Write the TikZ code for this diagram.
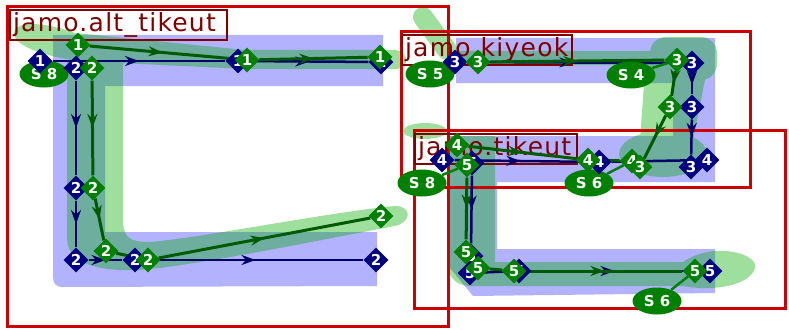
\documentclass[tikz,border=0pt]{standalone}
\usepackage{fontspec}
\setmainfont{DejaVu Sans}
\newfontfamily\labelfont[LetterSpace=5]{DejaVu Sans}
\usetikzlibrary{arrows.meta,shapes.geometric,decorations.markings}
\definecolor{boxred}{RGB}{204,0,0}
\definecolor{labelred}{RGB}{128,0,0}
\definecolor{nodeblue}{RGB}{0,0,128}
\definecolor{nodegreen}{RGB}{0,128,0}
\definecolor{lineblue}{RGB}{0,0,105}
\definecolor{linegreen}{RGB}{0,90,0}
\definecolor{bandblue}{RGB}{178,178,255}
\definecolor{bandgreen}{RGB}{0,170,0}
\pgfdeclarelayer{bands}
\pgfdeclarelayer{frames}
\pgfdeclarelayer{lines}
\pgfsetlayers{bands,frames,lines,main}

\begin{document}
\begin{tikzpicture}[x=1pt, y=-1pt, >=Stealth]
\tikzset{
  bpt/.style={diamond, fill=nodeblue, text=white, inner sep=0pt, minimum width=25pt, minimum height=25pt, font=\bfseries\fontsize{15}{15}\selectfont},
  gpt/.style={bpt, fill=nodegreen},
  seq/.style={ellipse, fill=nodegreen, text=white, inner sep=0pt, minimum width=49pt, minimum height=27pt, font=\bfseries\fontsize{15}{15}\selectfont},
  glyph/.style={draw=boxred, line width=3pt},
  tag/.style={draw=labelred, line width=2pt, text=labelred, anchor=north west, inner xsep=3pt, inner ysep=0pt, minimum height=30pt, align=left, font=\labelfont\fontsize{25}{25}\selectfont},
  midarr/.style={postaction={decorate}, decoration={markings, mark=at position 0.5 with {\arrow{Stealth[length=14pt,width=10pt]}}}},
  bflow/.style={draw=lineblue, line width=2.5pt},
  gflow/.style={draw=linegreen, line width=3pt},
  link/.style={draw=nodegreen, line width=2.5pt}
}
\useasboundingbox (0,0) rectangle (789,329);

% stroke bands
\begin{pgfonlayer}{bands}
\fill[bandblue] (53,35) -- (383,35) -- (383,86) -- (105,86) -- (105,232) -- (377,232) -- (377,286) -- (62,287) .. controls (56,287) and (53,283) .. (53,277) -- cycle;
\fill[bandblue] (456,38) -- (715,38) -- (715,136) -- (673,136) -- (673,83) -- (456,83) -- cycle;
\fill[bandblue] (447,136) -- (715,136) -- (715,182) -- (497,182) -- (497,249) -- (715,249) -- (715,293) -- (473,296) -- (450,268) -- cycle;
\begin{scope}[transparency group, opacity=0.38]
\fill[bandgreen] (14,34) .. controls (12,22) and (40,20) .. (75,33) -- (245,50) -- (395,50) .. controls (410,51) and (410,69) .. (395,69) -- (245,69) -- (78,61) .. controls (50,57) and (16,48) .. (14,34) -- cycle;
\fill[bandgreen] (67,62) -- (67,238) .. controls (67,262) and (95,272) .. (140,270) .. controls (200,265) and (330,238) .. (395,226) .. controls (412,222) and (412,206) .. (395,206) .. controls (330,212) and (200,238) .. (150,242) .. controls (130,242) and (123,238) .. (123,220) -- (123,62) -- cycle;
\draw[bandgreen, line width=20pt, line cap=round] (423,17) -- (447,50);
\draw[bandgreen, line width=14pt, line cap=round] (452,58) -- (665,58);
\fill[bandgreen, rounded corners=16pt] (650,37) rectangle (717,80);
\fill[bandgreen] (645,70) -- (707,70) -- (693,140) -- (640,140) -- cycle;
\fill[bandgreen] (663,154) ellipse [x radius=44pt, y radius=23pt];
\fill[bandgreen] (425,131) ellipse [x radius=22pt, y radius=8pt];
\fill[bandgreen] (447,136) -- (495,136) -- (495,262) -- (683,262) .. controls (715,240) and (760,255) .. (755,268) .. controls (750,285) and (715,292) .. (683,286) -- (470,286) .. controls (456,286) and (447,276) .. (447,262) -- cycle;
\end{scope}
\end{pgfonlayer}

% glyph frames
\begin{pgfonlayer}{frames}
\draw[glyph] (7,7) rectangle (448,326);
\draw[glyph] (401,32) rectangle (750,187);
\draw[glyph] (414,130) rectangle (785,308);
\node[tag, minimum width=217pt, text width=211pt] (alttag) at (9,9) {jamo.alt\_tikeut};
\node[tag, minimum width=170pt, text width=164pt] (kiytag) at (401,34) {jamo.kiyeok};
\node[tag, minimum width=162pt, text width=156pt] (tiktag) at (414,133) {jamo.tikeut};
\end{pgfonlayer}

% sequence marks
\node[seq] (as8) at (44,74) {S 8};
\node[seq] (ks5) at (430,74) {S 5};
\node[seq] (ks4) at (631,75) {S 4};
\node[seq] (ts8) at (422,183) {S 8};
\node[seq] (ts6) at (589,183) {S 6};
\node[seq] (ts6b) at (657,301) {S 6};

% blue points
\node[bpt] (ab1) at (40,61) {1};
\node[bpt] (ab2) at (238,61) {1};
\node[bpt] (ab3) at (381,62) {1};
\node[bpt] (ab4) at (76,68) {2};
\node[bpt] (ab5) at (76,188) {2};
\node[bpt] (ab6) at (76,260) {2};
\node[bpt] (ab7) at (135,260) {2};
\node[bpt] (ab8) at (376,260) {2};
\node[bpt] (kb1) at (455,62) {3};
\node[bpt] (kb2) at (692,63) {3};
\node[bpt] (kb3) at (692,107) {3};
\node[bpt] (kb4) at (691,167) {3};
\node[bpt] (tb1) at (442,160) {4};
\node[bpt] (tb2) at (599,162) {4};
\node[bpt] (tb3) at (707,160) {4};
\node[bpt] (tb5) at (472,163) {5};
\node[bpt] (tb6) at (471,256) {5};
\node[bpt] (tb7) at (470,273) {5};
\node[bpt] (tb8) at (519,271) {5};
\node[bpt] (tb9) at (710,271) {5};

% green points
\node[gpt] (ag1) at (78,45) {1};
\node[gpt] (ag2) at (247,60) {1};
\node[gpt] (ag3) at (380,57) {1};
\node[gpt] (ag4) at (92,68) {2};
\node[gpt] (ag5) at (93,188) {2};
\node[gpt] (ag6) at (106,251) {2};
\node[gpt] (ag7) at (148,260) {2};
\node[gpt] (ag8) at (381,216) {2};
\node[gpt] (kg1) at (478,62) {3};
\node[gpt] (kg2) at (677,60) {3};
\node[gpt] (kg3) at (670,107) {3};
\node[gpt] (tg1) at (457,145) {4};
\node[gpt] (tg2) at (588,160) {4};
\node[gpt] (tg3) at (632,161) {4};
\node[gpt] (kg4) at (640,167) {3};
\node[gpt] (tg5) at (467,165) {5};
\node[gpt] (tg6) at (466,252) {5};
\node[gpt] (tg7) at (478,268) {5};
\node[gpt] (tg8) at (514,271) {5};
\node[gpt] (tg9) at (695,271) {5};

\begin{pgfonlayer}{lines}
\draw[bflow, midarr] (ab1) -- (ab2);
\draw[bflow, midarr] (ab2) -- (ab3);
\draw[bflow, midarr] (ab4) -- (ab5);
\draw[bflow, midarr] (ab5) -- (ab6);
\draw[bflow, midarr] (ab6) -- (ab7);
\draw[bflow, midarr] (ab7) -- (ab8);
\draw[bflow, midarr] (kb1) -- (kb2);
\draw[bflow, midarr] (kb2) -- (kb3);
\draw[bflow, midarr] (kb3) -- (kb4);
\draw[bflow, midarr] (tb1) -- (tb2);
\draw[bflow] (tb2) -- (tb3);
\draw[bflow, midarr] (tb5) -- (tb6);
\draw[bflow] (tb6) -- (tb7) -- (tb8);
\draw[bflow, midarr] (tb8) -- (tb9);

\draw[gflow, midarr] (ag1) -- (ag2);
\draw[gflow, midarr] (ag2) -- (ag3);
\draw[gflow, midarr] (ag4) -- (ag5);
\draw[gflow, midarr] (ag5) -- (ag6);
\draw[gflow] (ag6) -- (ag7);
\draw[gflow, midarr] (ag7) -- (ag8);
\draw[gflow, midarr] (kg1) -- (kg2);
\draw[gflow, midarr] (kg2) -- (kg3);
\draw[gflow, midarr] (kg3) -- (kg4);
\draw[gflow, midarr] (tg1) -- (tg2);
\draw[gflow] (tg2) -- (tg3);
\draw[gflow, midarr] (tg5) -- (tg6);
\draw[gflow] (tg6) -- (tg7) -- (tg8);
\draw[gflow, midarr] (tg8) -- (tg9);

\draw[link] (ks4) -- (kg2);
\draw[link] (ts8) -- (tg5);
\draw[link] (ts6) -- (tg3);
\draw[link] (ts6b) -- (tg9);
\end{pgfonlayer}
\end{tikzpicture}
\end{document}
